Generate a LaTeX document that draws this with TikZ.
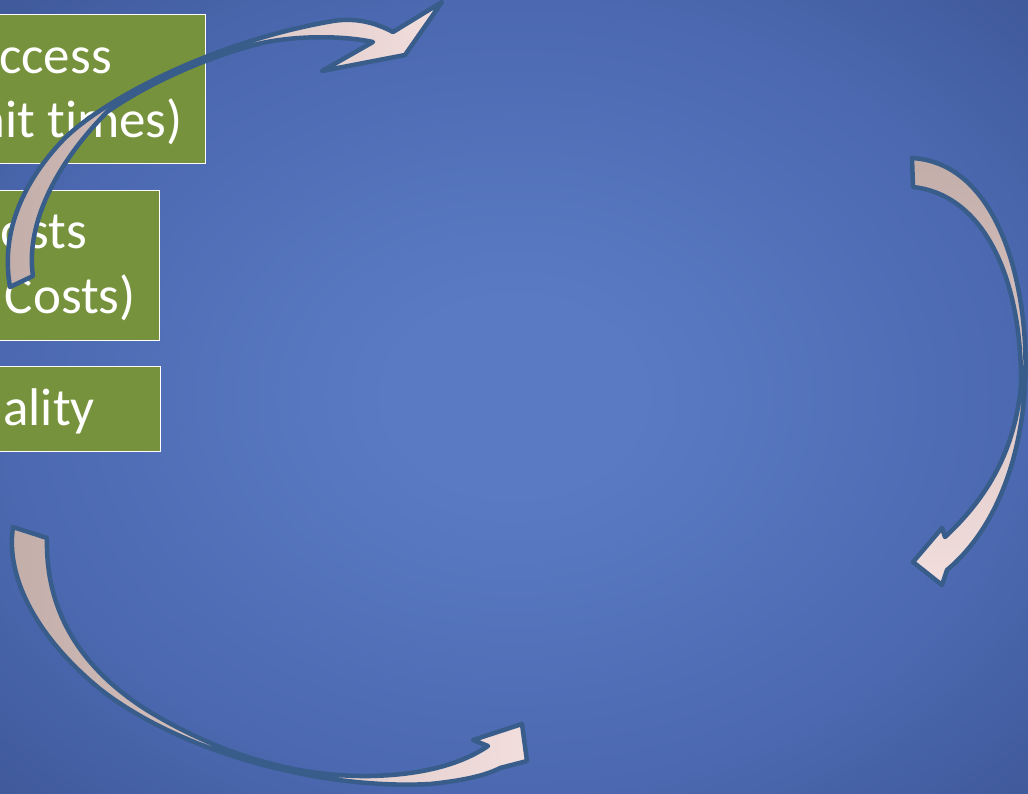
\documentclass[tikz,border=0pt]{standalone}
\usepackage{fontspec}
\setmainfont{Carlito}[Ligatures=NoCommon]

\definecolor{bgin}{HTML}{5A7BC4}
\definecolor{bgmid}{HTML}{4B68B0}
\definecolor{bgout}{HTML}{3F5999}
\definecolor{boxfill}{HTML}{77923C}
\definecolor{arrowline}{HTML}{385D8A}
\definecolor{tailc}{HTML}{C2ADA9}
\definecolor{headc}{HTML}{F2DEDD}

\pgfdeclareradialshading{slidebg}{\pgfpoint{0bp}{0bp}}{%
  color(0bp)=(bgin); color(6bp)=(bgin); color(25bp)=(bgmid);
  color(36bp)=(bgout); color(50bp)=(bgout)}

\tikzset{
  box/.style={draw=white, line width=1.3pt, fill=boxfill, rectangle,
    inner sep=0pt, anchor=north east},
  lbl/.style={text=white, font=\fontsize{53}{64}\selectfont, inner sep=0pt,
    anchor=base east},
  curvedarrow/.style={draw=arrowline, line width=4.5pt, line join=round},
}

\begin{document}
\begin{tikzpicture}[x=1pt, y=-1pt]
\useasboundingbox (0,0) rectangle (1028,793);
\clip (0,0) rectangle (1028,793);

% slide background
\shade[shading=slidebg] (0,0) rectangle (1028,793);

% green boxes running off the left edge
\node[box, minimum width=250pt, minimum height=149pt] (accessbox) at (206,14) {};
\node[box, minimum width=204pt, minimum height=150pt] (costsbox) at (160,190) {};
\node[box, minimum width=205pt, minimum height=85pt] (qualitybox) at (161,366) {};

\node[lbl] (accessA) at (112,73) {ccess};
\node[lbl] (accessB) at (183,137) {nit times)};
\node[lbl] (costsA) at (87,248) {osts};
\node[lbl] (costsB) at (136,313) {Costs)};
\node[lbl] (qualityA) at (95,425) {ality};

% upper-left curved arrow
\path[curvedarrow, left color=tailc, right color=headc]
  (10,287) .. controls (0,230) and (25,180) .. (63,140)
  .. controls (100,102) and (210,42) .. (333,21)
  .. controls (358,17) and (378,24) .. (393,32)
  -- (442,2) -- (405,55) -- (322,71) -- (373,42)
  .. controls (345,36) and (300,35) .. (262,43)
  .. controls (210,56) and (150,82) .. (107,112)
  .. controls (50,170) and (26,230) .. (33,276) -- cycle;

% right curved arrow
\path[curvedarrow, top color=tailc, bottom color=headc]
  (912,158) .. controls (1000,163) and (1030,290) .. (1025,385)
  .. controls (1021,460) and (995,530) .. (947,570)
  -- (942,585) -- (913,562) -- (942,528) -- (945,537)
  .. controls (988,497) and (1015,450) .. (1021,385)
  .. controls (1022,280) and (985,195) .. (913,187) -- cycle;

% lower curved arrow
\path[curvedarrow, left color=tailc, right color=headc]
  (13,527) .. controls (5,580) and (40,640) .. (100,689)
  .. controls (180,752) and (320,790) .. (430,784)
  .. controls (460,781) and (485,776) .. (500,768)
  -- (527,761) -- (522,724) -- (473,740) -- (488,746)
  .. controls (460,765) and (420,775) .. (370,776)
  .. controls (300,777) and (225,757) .. (150,712)
  .. controls (90,675) and (45,620) .. (47,538) -- cycle;
\end{tikzpicture}
\end{document}
